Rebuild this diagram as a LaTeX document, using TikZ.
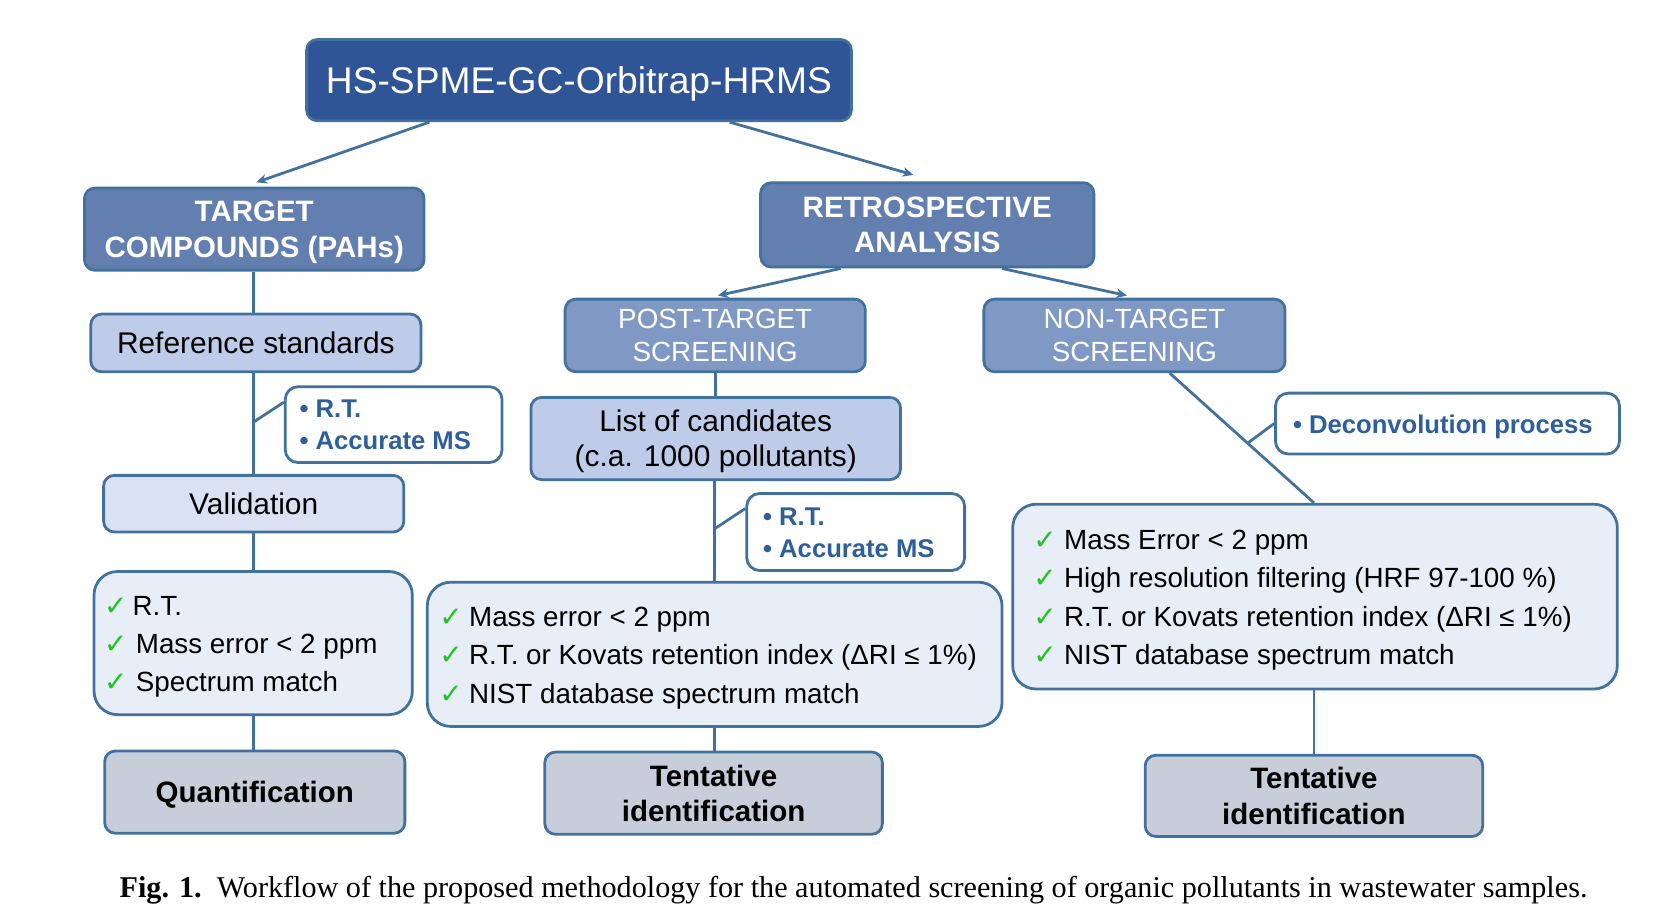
\documentclass[tikz,border=0pt]{standalone}
\usepackage{fontspec}
\setmainfont{Liberation Sans}
\newfontfamily\capfont{Liberation Serif}
\newfontfamily\symfont{DejaVu Sans}
\usetikzlibrary{arrows.meta,calc}
\definecolor{bd}{HTML}{41719C}
\definecolor{titlefill}{HTML}{2F5597}
\definecolor{midfill}{HTML}{637FB0}
\definecolor{scrfill}{HTML}{8099C4}
\definecolor{lightfill}{HTML}{BECCEA}
\definecolor{valfill}{HTML}{D9E1F2}
\definecolor{chkfill}{HTML}{E8EEF8}
\definecolor{endfill}{HTML}{C8CDDA}
\definecolor{bluetext}{HTML}{2E5F9A}
\definecolor{chkgreen}{HTML}{1FC41F}
\newcommand{\chk}{{\symfont\color{chkgreen}\char"2713}}
\begin{document}
\begin{tikzpicture}[x=0.5pt,y=-0.5pt,
  box/.style={draw=bd, line width=1.3pt, rounded corners=5pt, inner sep=0pt, align=center},
  lower/.style={text depth=0pt},
  titlebox/.style={box, fill=titlefill, text=white, font=\fontsize{17.4}{20}\selectfont},
  headbox/.style={box, fill=midfill, text=white, font=\fontsize{13.8}{16.5}\selectfont\bfseries},
  scrbox/.style={box, fill=scrfill, text=white, font=\fontsize{13}{15.5}\selectfont},
  lightbox/.style={box, fill=lightfill, font=\fontsize{14}{16.5}\selectfont},
  valbox/.style={box, fill=valfill, font=\fontsize{14}{16.5}\selectfont},
  notebox/.style={box, fill=white, rounded corners=6pt},
  chkbox/.style={box, fill=chkfill, rounded corners=11pt},
  endbox/.style={box, fill=endfill, font=\fontsize{13.8}{16.5}\selectfont\bfseries},
  bluetxt/.style={inner sep=0pt, anchor=west, align=left, text=bluetext, font=\fontsize{12}{15}\selectfont\bfseries},
  chktxt/.style={inner sep=0pt, anchor=west, align=left, font=\fontsize{13}{18}\selectfont},
  conn/.style={draw=bd, line width=1.3pt},
  arr/.style={conn, -{Stealth[length=5pt,width=4.5pt]}}
]
\useasboundingbox (0,0) rectangle (1568,863);

% boxes
\node[titlebox, lower, minimum width=255pt, minimum height=38pt] (title) at (542,75) {HS-SPME-GC-Orbitrap-HRMS};
\node[headbox, lower, minimum width=159pt, minimum height=38.5pt] (target) at (238,214.5) {TARGET\\COMPOUNDS (PAHs)};
\node[headbox, minimum width=156pt, minimum height=39.5pt] (retro) at (868,210.5) {RETROSPECTIVE\\ANALYSIS};
\node[lightbox, minimum width=154.5pt, minimum height=27pt] (ref) at (239.5,321) {Reference standards};
\node[scrbox, minimum width=140.5pt, minimum height=34pt] (post) at (669.5,314) {POST-TARGET\\SCREENING};
\node[scrbox, minimum width=141pt, minimum height=34pt] (non) at (1062,314) {NON-TARGET\\SCREENING};
\node[notebox, minimum width=101.5pt, minimum height=35.5pt] (rt1) at (368.5,397.5) {};
\node[bluetxt] (rt1t) at (280,397.5) {\textbullet\ R.T.\\\textbullet\ Accurate MS};
\node[valbox, minimum width=140.5pt, minimum height=26.5pt] (val) at (237.5,471.5) {Validation};
\node[chkbox, minimum width=149pt, minimum height=67pt] (chk1) at (237,602) {};
\node[chktxt] (chk1t) at (97,605.5) {\chk\hspace{2.5pt}R.T.\\\chk\hspace{4pt}Mass error < 2 ppm\\\chk\hspace{4pt}Spectrum match};
\node[endbox, lower, minimum width=140.5pt, minimum height=38.5pt] (quant) at (238.5,741.5) {Quantification};
\node[lightbox, lower, minimum width=173pt, minimum height=38.5pt] (list) at (670,410.5) {List of candidates\\(c.a. 1000 pollutants)};
\node[notebox, minimum width=102pt, minimum height=36pt] (rt2) at (801,498) {};
\node[bluetxt] (rt2t) at (714,499) {\textbullet\ R.T.\\\textbullet\ Accurate MS};
\node[chkbox, minimum width=269pt, minimum height=67.5pt] (chk2) at (669,612.5) {};
\node[chktxt] (chk2t) at (411,616) {\chk\hspace{3pt}Mass error < 2 ppm\\\chk\hspace{3pt}R.T. or Kovats retention index (ΔRI ≤ 1\%)\\\chk\hspace{3pt}NIST database spectrum match};
\node[endbox, minimum width=158pt, minimum height=38.5pt] (tent2) at (668,742.5) {Tentative\\identification};
\node[notebox, minimum width=161pt, minimum height=28.5pt] (decon) at (1355,396.5) {};
\node[bluetxt] (decont) at (1210,400) {\textbullet\ Deconvolution process};
\node[chkbox, minimum width=283pt, minimum height=86.5pt] (chk3) at (1231,558.5) {};
\node[chktxt] (chk3t) at (967,562) {\chk\hspace{3.5pt}Mass Error < 2 ppm\\\chk\hspace{3.5pt}High resolution filtering (HRF 97-100 \%)\\\chk\hspace{3.5pt}R.T. or Kovats retention index (ΔRI ≤ 1\%)\\\chk\hspace{3.5pt}NIST database spectrum match};
\node[endbox, minimum width=158pt, minimum height=38pt] (tent3) at (1230,745) {Tentative\\identification};

% connectors
\draw[arr] ([xshift=-70pt]title.south) -- ([xshift=1pt,yshift=2pt]target.north);
\draw[arr] ([xshift=70.5pt]title.south) -- ([xshift=-6.5pt,yshift=3pt]retro.north);
\draw[arr] ([xshift=-40.5pt]retro.south) -- ([xshift=1.25pt,yshift=1pt]post.north);
\draw[arr] ([xshift=35pt]retro.south) -- ([xshift=-3.5pt,yshift=1pt]non.north);
\draw[conn] ([xshift=-0.5pt]target.south) -- ([xshift=-0.5pt]target.south |- ref.north);
\draw[conn] (val.north |- ref.south) -- (val.north);
\coordinate (b1) at (val.north |- 0,395);
\draw[conn] (b1) -- ([yshift=10.5pt]rt1.west);
\draw[conn] (val.south) -- (val.south |- chk1.north);
\draw[conn] (chk1.south) -- (chk1.south |- quant.north);
\draw[conn] (post.south) -- (post.south |- list.north);
\draw[conn] ([xshift=-0.5pt]list.south) -- ([xshift=-0.5pt]list.south |- chk2.north);
\coordinate (b2) at ([xshift=-0.5pt]list.south |- 0,495);
\draw[conn] (b2) -- ([yshift=11pt]rt2.west);
\draw[conn] (chk2.south) -- (chk2.south |- tent2.north);
\coordinate (n1) at ([xshift=16.5pt]non.south);
\coordinate (n2) at ([xshift=-0.5pt]chk3.north);
\draw[conn] (n1) -- (n2);
\coordinate (b3) at ($(n1)!0.54!(n2)$);
\draw[conn] (b3) -- (decon.west);
\draw[conn] ([xshift=-0.5pt]chk3.south) -- ([xshift=-0.5pt]chk3.south |- tent3.north);

% caption
\node[inner sep=0pt] (cap) at (799,833) {\resizebox{687pt}{!}{\capfont\textbf{Fig. 1.}\ \ Workflow of the proposed methodology for the automated screening of organic pollutants in wastewater samples.}};
\end{tikzpicture}
\end{document}
